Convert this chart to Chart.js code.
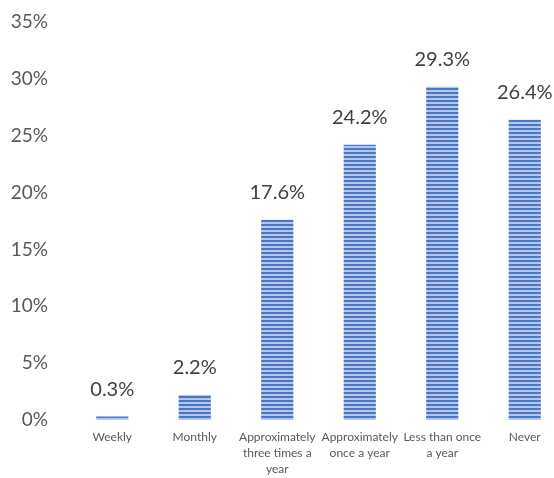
<!DOCTYPE html>
<html>
<head>
<meta charset="utf-8">
<script src="https://cdn.jsdelivr.net/npm/chart.js@4"></script>
<style>
  html, body { margin: 0; padding: 0; background: #fff; overflow: hidden; }
  #wrap { position: relative; width: 566px; height: 478px; }
</style>
</head>
<body>
<div id="wrap"><canvas id="c" width="566" height="478"></canvas></div>
<script>
// Frequency categories (multi-line labels) and their shares in percent
const categories = [
  "Weekly",
  "Monthly",
  ["Approximately", "three times a", "year"],
  ["Approximately", "once a year"],
  ["Less than once", "a year"],
  "Never"
];
const shares = [0.3, 2.2, 17.6, 24.2, 29.3, 26.4];
const yTicks = [0, 5, 10, 15, 20, 25, 30, 35];

// Horizontal striped fill for the bars
function stripePattern() {
  const p = document.createElement('canvas');
  p.width = 4; p.height = 4;
  const g = p.getContext('2d');
  g.fillStyle = '#b4c7ea';
  g.fillRect(0, 0, 4, 4);
  g.fillStyle = '#4a76c6';
  g.fillRect(0, 0, 4, 2);
  return g.createPattern(p, 'repeat');
}

// Value labels above each bar
const valueLabels = {
  id: 'valueLabels',
  afterDatasetsDraw(chart) {
    const { ctx } = chart;
    const meta = chart.getDatasetMeta(0);
    ctx.save();
    ctx.font = '20px Lato';
    ctx.fillStyle = '#404040';
    ctx.textAlign = 'center';
    ctx.textBaseline = 'bottom';
    meta.data.forEach((bar, i) => {
      ctx.fillText(shares[i].toFixed(1) + '%', bar.x, bar.y - 17);
    });
    ctx.restore();
  }
};

const ctx = document.getElementById('c').getContext('2d');
new Chart(ctx, {
  type: 'bar',
  data: {
    labels: categories,
    datasets: [{
      data: shares,
      backgroundColor: stripePattern(),
      borderWidth: 0,
      categoryPercentage: 1,
      barPercentage: 0.39
    }]
  },
  options: {
    responsive: false,
    animation: false,
    layout: { padding: { top: 22, left: 0, right: 0, bottom: 0 } },
    plugins: { legend: { display: false }, tooltip: { enabled: false } },
    scales: {
      x: {
        afterFit(scale) { scale.height = 58; scale.paddingLeft = 0; scale.paddingRight = 0; },
        grid: { display: false, drawTicks: false },
        border: { display: false },
        ticks: {
          color: '#595959',
          font: { family: 'Lato', size: 12, lineHeight: 1.33 },
          padding: 9,
          maxRotation: 0,
          autoSkip: false
        }
      },
      y: {
        min: 0,
        max: 35,
        afterFit(scale) { scale.width = 71; scale.paddingTop = 0; scale.paddingBottom = 0; },
        afterBuildTicks(scale) { scale.ticks = yTicks.map(v => ({ value: v })); },
        grid: { display: false, drawTicks: false },
        border: { display: false },
        ticks: {
          color: '#595959',
          font: { family: 'Lato', size: 19 },
          padding: 23,
          callback: v => v + '%'
        }
      }
    }
  },
  plugins: [valueLabels]
});
</script>
</body>
</html>
